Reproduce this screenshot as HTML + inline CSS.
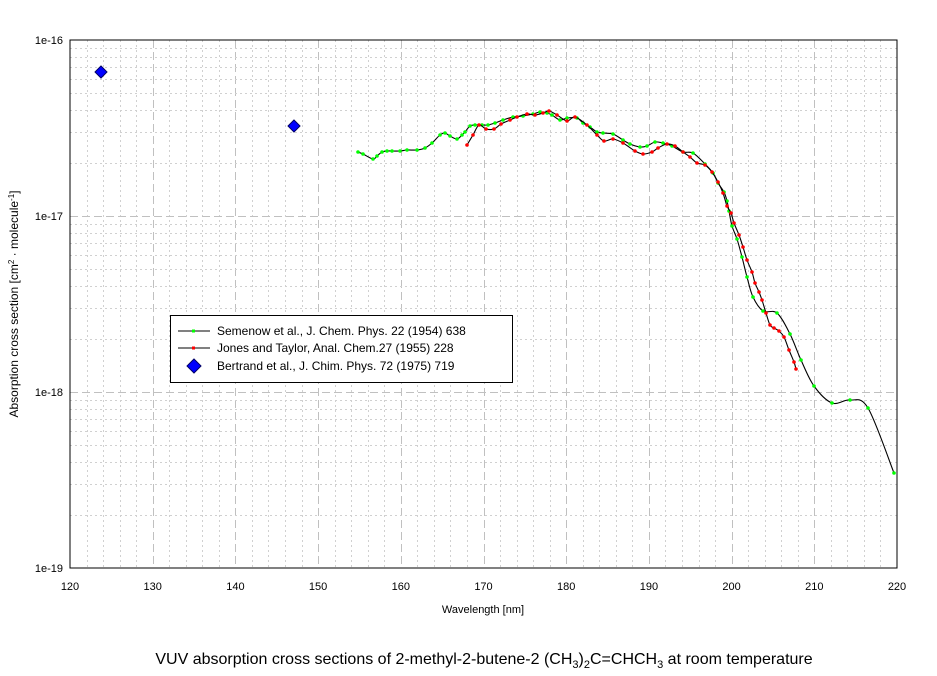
<!DOCTYPE html>
<html><head><style>body{margin:0;background:#fff}svg{display:block;font-family:"Liberation Sans",Arial,sans-serif}</style></head>
<body>
<svg id="s" width="937" height="676" xmlns="http://www.w3.org/2000/svg">
<rect width="937" height="676" fill="#fff"/>
<g id="grid"></g>
<rect x="70" y="40" width="827" height="528" fill="none" stroke="#000" stroke-width="1"/>
<g id="lbl" font-size="11" fill="#000"></g>
<g id="data"></g>
<g>
<rect x="170.5" y="315.5" width="342" height="67" fill="#fff" stroke="#000"/>
<line x1="178" y1="331" x2="210" y2="331" stroke="#000"/><rect x="192" y="329.5" width="3" height="3" fill="#0f0"/>
<line x1="178" y1="348" x2="210" y2="348" stroke="#000"/><rect x="192" y="346.5" width="3" height="3" fill="#f00"/>
<polygon points="194,359 201,366 194,373 187,366" fill="#00f" stroke="#006"/>
<text x="217" y="335" font-size="12">Semenow et al., J. Chem. Phys. 22 (1954) 638</text>
<text x="217" y="352" font-size="12">Jones and Taylor, Anal. Chem.27 (1955) 228</text>
<text x="217" y="370" font-size="12">Bertrand et al., J. Chim. Phys. 72 (1975) 719</text>
</g>
<text x="483" y="613" font-size="11" text-anchor="middle">Wavelength [nm]</text>
<text transform="translate(18,304) rotate(-90)" font-size="12" text-anchor="middle">Absorption cross section [cm<tspan dy="-4" font-size="8">2</tspan><tspan dy="4"> · molecule</tspan><tspan dy="-4" font-size="8">-1</tspan><tspan dy="4">]</tspan></text>
<text x="484" y="664" font-size="16" text-anchor="middle">VUV absorption cross sections of 2-methyl-2-butene-2 (CH<tspan dy="4" font-size="11">3</tspan><tspan dy="-4">)</tspan><tspan dy="4" font-size="11">2</tspan><tspan dy="-4">C=CHCH</tspan><tspan dy="4" font-size="11">3</tspan><tspan dy="-4"> at room temperature</tspan></text>
</svg>
<script>
const NS="http://www.w3.org/2000/svg";
function el(p,t,a){const e=document.createElementNS(NS,t);for(const k in a)e.setAttribute(k,a[k]);p.appendChild(e);return e;}
const g=document.getElementById('grid'),l=document.getElementById('lbl'),d=document.getElementById('data');
const X=v=>70+(v-120)*8.27;
for(let v=122;v<220;v+=2){const x=Math.round(X(v))+.5;const maj=v%10==0;
 el(g,'line',{x1:x,y1:40,x2:x,y2:568,stroke:maj?'#c0c0c0':'#d0d0d0','stroke-dasharray':maj?'8,4':'2,3'});}
for(let dec=0;dec<3;dec++){for(let m=1;m<=9;m++){const y=Math.round(568-176*dec-176*Math.log10(m))+.5;
 if(m==1&&dec==0)continue;const maj=m==1;
 el(g,'line',{x1:70,y1:y,x2:897,y2:y,stroke:maj?'#c0c0c0':'#d0d0d0','stroke-dasharray':maj?'8,4':'2,3'});}}
for(let v=120;v<=220;v+=10){const t=el(l,'text',{x:X(v),y:590,'text-anchor':'middle'});t.textContent=v;}
[['1e-16',44],['1e-17',220],['1e-18',396],['1e-19',572]].forEach(a=>{const t=el(l,'text',{x:63,y:a[1],'text-anchor':'end'});t.textContent=a[0];});
const G=[[358,152],[363,154],[373,159],[377,156],[382,152],[387,151],[392,151],[400,151],[407,150],[417,150],[425,148],[432,143],[440,135],[445,133],[450,136],[457,139],[462,135],[465,132],[470,126],[475,125],[482,125],[488,125],[495,123],[503,120],[513,117],[523,116],[533,114],[540,112],[547,113],[552,115],[560,120],[567,118],[577,118],[583,123],[590,127],[597,132],[603,133],[613,134],[623,140],[630,144],[640,147],[647,146],[655,142],[663,143],[672,146],[683,152],[693,153],[705,164],[713,173],[718,183],[724,192],[727,201],[729,211],[732,226],[737,239],[742,257],[747,277],[753,297],[763,311],[777,313],[790,334],[801,360],[814,386],[832,403],[850,400],[868,408],[894,473]];
const R=[[467,145],[473,135],[479,125],[486,129],[494,129],[501,124],[510,120],[517,117],[527,114],[535,115],[543,113],[549,111],[557,115],[567,121],[575,117],[587,125],[597,135],[604,141],[613,139],[623,143],[635,151],[643,154],[652,152],[658,148],[667,144],[675,146],[683,152],[690,157],[697,163],[705,165],[712,172],[718,182],[723,193],[727,206],[731,213],[734,223],[739,235],[743,247],[747,260],[752,272],[755,283],[759,292],[762,300],[766,313],[770,325],[774,328],[779,331],[784,337],[789,350],[794,362],[796,369]];
function path(P){let s=`M${P[0][0]},${P[0][1]}`;for(let i=0;i<P.length-1;i++){const p0=P[i-1]||P[i],p1=P[i],p2=P[i+1],p3=P[i+2]||p2;
 s+=` C${p1[0]+(p2[0]-p0[0])/6},${p1[1]+(p2[1]-p0[1])/6} ${p2[0]-(p3[0]-p1[0])/6},${p2[1]-(p3[1]-p1[1])/6} ${p2[0]},${p2[1]}`;}return s;}
function draw(P,c){
 el(d,'path',{d:path(P),fill:'none',stroke:'#000','stroke-width':1.1});
 P.forEach(p=>el(d,'circle',{cx:p[0],cy:p[1],r:1.8,fill:c}));}
draw(G,'#0f0');draw(R,'#f00');
[[101,72],[294,126]].forEach(p=>el(d,'polygon',{points:`${p[0]},${p[1]-6} ${p[0]+6},${p[1]} ${p[0]},${p[1]+6} ${p[0]-6},${p[1]}`,fill:'#00f',stroke:'#006'}));
</script>
</body></html>
